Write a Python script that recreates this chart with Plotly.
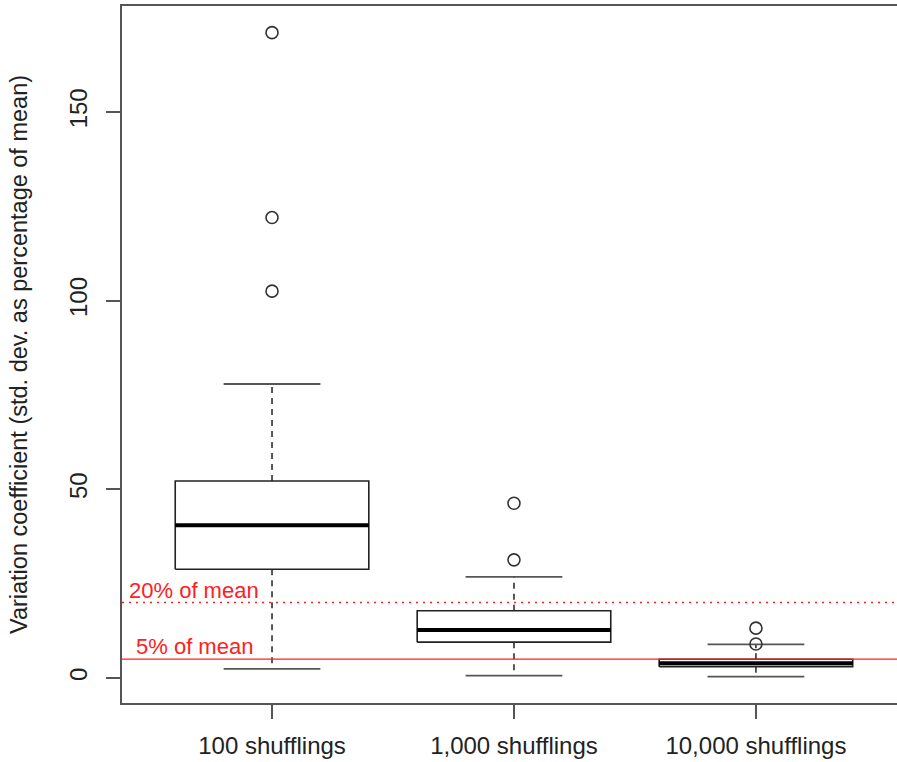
import plotly.graph_objects as go

# ---- data ----
categories = ["100 shufflings", "1,000 shufflings", "10,000 shufflings"]
lower_whisker = [2.4, 0.6, 0.35]
q1 = [28.8, 9.5, 3.0]
median = [40.5, 12.7, 3.9]
q3 = [52.2, 17.8, 4.95]
upper_whisker = [77.9, 26.8, 8.9]
outliers = [[171.0, 122.0, 102.5], [46.3, 31.3], [13.2, 9.0]]
threshold_values = [20, 5]
threshold_labels = ["20% of mean", "5% of mean"]
y_tick_values = [0, 50, 100, 150]

FONT = "Liberation Sans, Arial, Helvetica, sans-serif"
INK = "#222222"
HALF = 0.4       # half box width (boxwex 0.8)
STAPLE = 0.2     # half staple width

positions = list(range(1, len(categories) + 1))

fig = go.Figure()

# red reference lines
dash_styles = ["2px,5px", "solid"]
for val, dsh in zip(threshold_values, dash_styles):
    fig.add_shape(type="line", xref="paper", x0=0, x1=1, yref="y", y0=val, y1=val,
                  line=dict(color="#ff2020", width=1.3, dash=dsh), layer="above")

for i, p in enumerate(positions):
    # whiskers (dashed)
    fig.add_trace(go.Scatter(
        x=[p, p, None, p, p], y=[q3[i], upper_whisker[i], None, q1[i], lower_whisker[i]],
        mode="lines", line=dict(color=INK, width=1.5, dash="6px,5px"),
        hoverinfo="skip", showlegend=False))
    # staples
    fig.add_trace(go.Scatter(
        x=[p - STAPLE, p + STAPLE, None, p - STAPLE, p + STAPLE],
        y=[upper_whisker[i], upper_whisker[i], None, lower_whisker[i], lower_whisker[i]],
        mode="lines", line=dict(color="#555555", width=1.8),
        hoverinfo="skip", showlegend=False))
    # box
    fig.add_trace(go.Scatter(
        x=[p - HALF, p + HALF, p + HALF, p - HALF, p - HALF],
        y=[q1[i], q1[i], q3[i], q3[i], q1[i]],
        mode="lines", line=dict(color=INK, width=1.6),
        fill="toself", fillcolor="white",
        hoverinfo="skip", showlegend=False))
    # median
    fig.add_trace(go.Scatter(
        x=[p - HALF, p + HALF], y=[median[i], median[i]],
        mode="lines", line=dict(color="#000000", width=4),
        hoverinfo="skip", showlegend=False))
    # outliers
    fig.add_trace(go.Scatter(
        x=[p] * len(outliers[i]), y=outliers[i], mode="markers",
        marker=dict(symbol="circle-open", size=12, color="#333333", line=dict(width=1.6)),
        hoverinfo="skip", showlegend=False))

# red labels
label_y_offsets = [3.3, 3.4]
for val, txt, off in zip(threshold_values, threshold_labels, label_y_offsets):
    fig.add_annotation(x=0.678, y=val + off, text=txt, showarrow=False,
                       xref="x", yref="y",
                       font=dict(family=FONT, size=22, color="#ff2020"))

fig.update_layout(
    width=897, height=762,
    margin=dict(l=122, r=0, t=6, b=59),
    plot_bgcolor="white", paper_bgcolor="white",
    font=dict(family=FONT, size=24, color=INK),
    showlegend=False,
)
fig.update_xaxes(
    range=[0.38, 3.583], tickmode="array", tickvals=positions, ticktext=categories,
    showline=True, linecolor="#555555", linewidth=1.6, mirror=True,
    ticks="outside", ticklen=14, tickwidth=1.6, tickcolor="#555555",
    showgrid=False, zeroline=False, ticklabelstandoff=6,
    tickfont=dict(size=24, color=INK),
)
fig.update_yaxes(
    range=[-6.63, 178.06], tickmode="array", tickvals=y_tick_values,
    showline=True, linecolor="#555555", linewidth=1.6, mirror=False,
    ticks="outside", ticklen=14, tickwidth=1.6, tickcolor="#555555",
    showgrid=False, zeroline=False, tickangle=-90, ticklabelstandoff=10,
    tickfont=dict(size=24, color=INK),
    title=dict(text="Variation coefficient (std. dev. as percentage of mean)",
               font=dict(size=23.5, color=INK), standoff=30),
)

fig.write_html("out.html", config={"displayModeBar": False},
               post_script="document.body.style.margin='0';")
